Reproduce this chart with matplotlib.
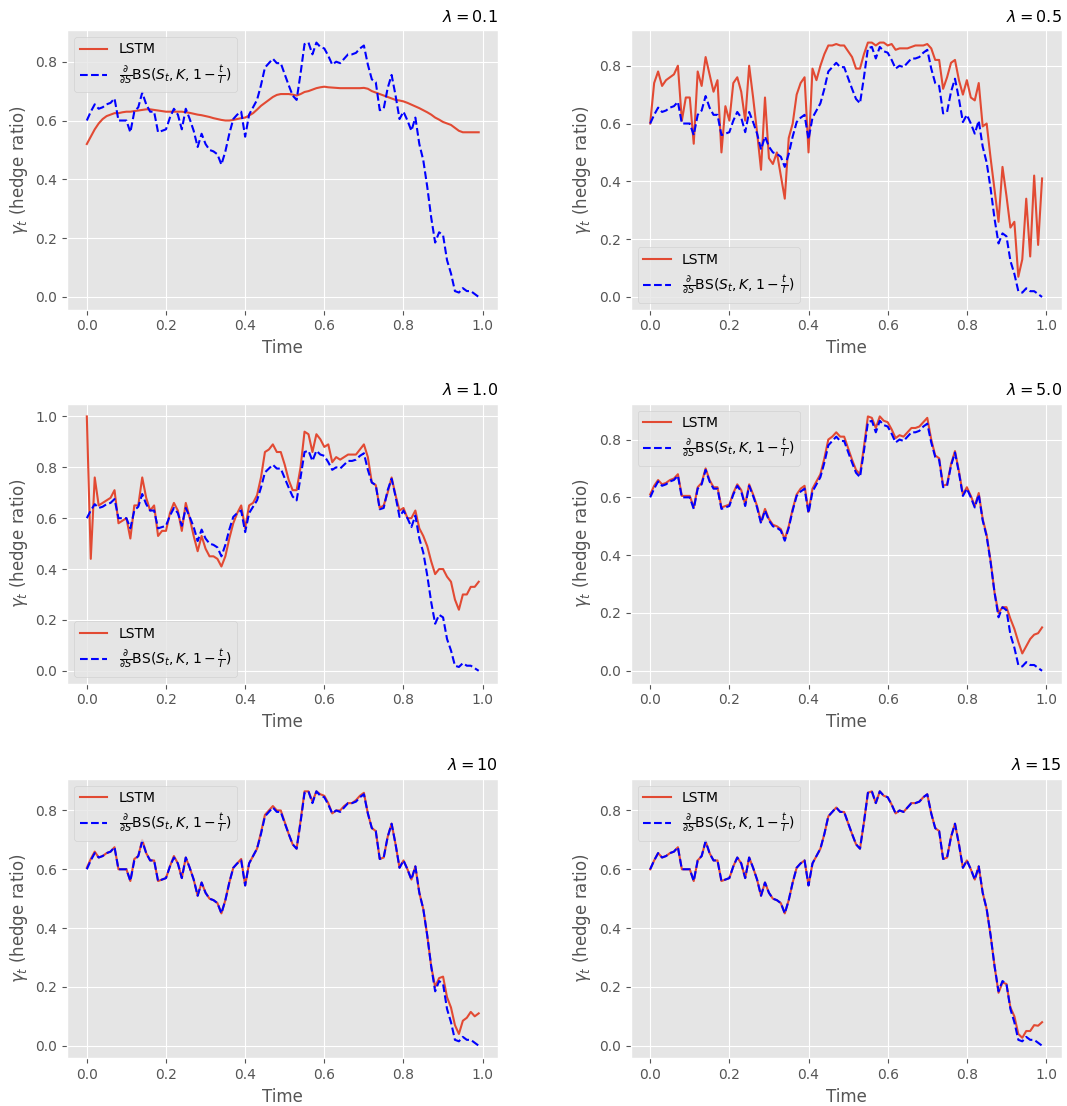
import numpy as np
import matplotlib
matplotlib.use("Agg")
import matplotlib.pyplot as plt

plt.style.use("ggplot")

times = np.arange(100) / 100.0

bs_delta = [0.60, 0.63, 0.655, 0.64, 0.645, 0.655, 0.66, 0.675, 0.60, 0.60,
            0.60, 0.56, 0.63, 0.645, 0.695, 0.655, 0.63, 0.63, 0.56, 0.565,
            0.57, 0.61, 0.64, 0.62, 0.57, 0.64, 0.605, 0.565, 0.51, 0.555,
            0.52, 0.50, 0.495, 0.485, 0.45, 0.495, 0.555, 0.605, 0.62, 0.63,
            0.545, 0.62, 0.645, 0.67, 0.72, 0.78, 0.795, 0.81, 0.795, 0.795,
            0.757, 0.72, 0.685, 0.67, 0.76, 0.86, 0.865, 0.825, 0.865, 0.85,
            0.845, 0.82, 0.79, 0.80, 0.795, 0.81, 0.825, 0.825, 0.83, 0.845,
            0.855, 0.79, 0.74, 0.73, 0.635, 0.64, 0.71, 0.755, 0.685, 0.605,
            0.63, 0.60, 0.565, 0.61, 0.52, 0.465, 0.375, 0.27, 0.185, 0.22,
            0.21, 0.125, 0.08, 0.02, 0.015, 0.03, 0.02, 0.02, 0.01, 0.00]

lstm_01 = [0.52, 0.545, 0.57, 0.59, 0.605, 0.615, 0.62, 0.625, 0.625, 0.628,
           0.63, 0.63, 0.632, 0.634, 0.636, 0.638, 0.638, 0.636, 0.634, 0.632,
           0.63, 0.63, 0.63, 0.63, 0.63, 0.628, 0.626, 0.623, 0.62, 0.618,
           0.615, 0.612, 0.608, 0.605, 0.602, 0.60, 0.60, 0.602, 0.605, 0.608,
           0.61, 0.617, 0.625, 0.637, 0.65, 0.66, 0.67, 0.68, 0.687, 0.69,
           0.69, 0.69, 0.688, 0.685, 0.69, 0.697, 0.70, 0.705, 0.71, 0.713,
           0.715, 0.713, 0.712, 0.711, 0.71, 0.71, 0.71, 0.71, 0.71, 0.71,
           0.711, 0.708, 0.70, 0.695, 0.69, 0.685, 0.68, 0.675, 0.67, 0.668,
           0.665, 0.66, 0.654, 0.648, 0.642, 0.635, 0.628, 0.62, 0.61, 0.603,
           0.595, 0.59, 0.585, 0.575, 0.565, 0.56, 0.56, 0.56, 0.56, 0.56]

lstm_05 = [0.60, 0.74, 0.78, 0.73, 0.75, 0.76, 0.77, 0.80, 0.61, 0.69,
           0.69, 0.53, 0.78, 0.73, 0.83, 0.77, 0.71, 0.75, 0.50, 0.66,
           0.61, 0.74, 0.76, 0.71, 0.61, 0.80, 0.69, 0.57, 0.44, 0.69,
           0.48, 0.46, 0.50, 0.42, 0.34, 0.55, 0.60, 0.70, 0.74, 0.76,
           0.50, 0.79, 0.75, 0.80, 0.84, 0.87, 0.87, 0.875, 0.87, 0.87,
           0.85, 0.83, 0.79, 0.79, 0.84, 0.88, 0.88, 0.87, 0.88, 0.88,
           0.87, 0.875, 0.855, 0.86, 0.86, 0.86, 0.865, 0.87, 0.87, 0.87,
           0.875, 0.86, 0.82, 0.82, 0.72, 0.76, 0.81, 0.82, 0.75, 0.70,
           0.75, 0.69, 0.68, 0.74, 0.59, 0.60, 0.48, 0.37, 0.26, 0.45,
           0.35, 0.24, 0.26, 0.07, 0.13, 0.34, 0.14, 0.42, 0.18, 0.41]

lstm_10 = [1.00, 0.44, 0.76, 0.65, 0.66, 0.67, 0.68, 0.71, 0.58, 0.59,
           0.60, 0.52, 0.65, 0.65, 0.76, 0.68, 0.63, 0.65, 0.53, 0.55,
           0.55, 0.62, 0.66, 0.63, 0.55, 0.66, 0.60, 0.53, 0.47, 0.53,
           0.48, 0.45, 0.45, 0.44, 0.41, 0.45, 0.52, 0.58, 0.62, 0.65,
           0.56, 0.65, 0.66, 0.69, 0.76, 0.86, 0.87, 0.89, 0.86, 0.86,
           0.81, 0.75, 0.71, 0.71, 0.80, 0.94, 0.93, 0.86, 0.93, 0.91,
           0.88, 0.89, 0.82, 0.84, 0.83, 0.84, 0.85, 0.85, 0.85, 0.87,
           0.89, 0.84, 0.74, 0.73, 0.64, 0.65, 0.70, 0.76, 0.69, 0.63,
           0.64, 0.60, 0.60, 0.63, 0.56, 0.53, 0.49, 0.43, 0.38, 0.40,
           0.40, 0.37, 0.35, 0.28, 0.24, 0.30, 0.30, 0.33, 0.33, 0.35]

lstm_50 = [0.61, 0.64, 0.66, 0.645, 0.65, 0.66, 0.665, 0.68, 0.605, 0.605,
           0.605, 0.565, 0.635, 0.65, 0.70, 0.66, 0.635, 0.635, 0.565, 0.57,
           0.575, 0.615, 0.645, 0.625, 0.575, 0.645, 0.61, 0.57, 0.515, 0.56,
           0.525, 0.505, 0.50, 0.49, 0.455, 0.50, 0.56, 0.61, 0.63, 0.64,
           0.55, 0.63, 0.655, 0.68, 0.735, 0.80, 0.81, 0.825, 0.81, 0.81,
           0.77, 0.73, 0.695, 0.68, 0.775, 0.88, 0.875, 0.84, 0.88, 0.865,
           0.86, 0.835, 0.805, 0.815, 0.81, 0.825, 0.84, 0.84, 0.845, 0.86,
           0.875, 0.80, 0.745, 0.735, 0.64, 0.645, 0.715, 0.76, 0.69, 0.61,
           0.635, 0.605, 0.57, 0.615, 0.525, 0.47, 0.38, 0.27, 0.20, 0.22,
           0.22, 0.18, 0.145, 0.10, 0.06, 0.085, 0.11, 0.125, 0.13, 0.15]

lstm_100 = [0.605, 0.635, 0.66, 0.64, 0.645, 0.655, 0.66, 0.675, 0.60, 0.60,
            0.60, 0.56, 0.635, 0.645, 0.70, 0.655, 0.63, 0.63, 0.56, 0.565,
            0.57, 0.61, 0.645, 0.62, 0.57, 0.64, 0.605, 0.565, 0.51, 0.555,
            0.52, 0.50, 0.495, 0.485, 0.45, 0.495, 0.555, 0.605, 0.62, 0.635,
            0.545, 0.62, 0.645, 0.67, 0.725, 0.785, 0.80, 0.815, 0.80, 0.80,
            0.76, 0.72, 0.685, 0.67, 0.765, 0.865, 0.865, 0.83, 0.865, 0.855,
            0.85, 0.825, 0.79, 0.80, 0.80, 0.815, 0.825, 0.825, 0.835, 0.85,
            0.86, 0.79, 0.74, 0.73, 0.635, 0.64, 0.71, 0.755, 0.685, 0.605,
            0.63, 0.60, 0.565, 0.61, 0.52, 0.465, 0.375, 0.27, 0.20, 0.23,
            0.235, 0.165, 0.13, 0.07, 0.04, 0.085, 0.095, 0.115, 0.10, 0.11]

lstm_150 = [0.60, 0.63, 0.655, 0.64, 0.645, 0.655, 0.66, 0.675, 0.60, 0.60,
            0.60, 0.56, 0.63, 0.645, 0.695, 0.655, 0.63, 0.63, 0.56, 0.565,
            0.57, 0.61, 0.64, 0.62, 0.57, 0.64, 0.605, 0.565, 0.51, 0.555,
            0.52, 0.50, 0.495, 0.485, 0.45, 0.495, 0.555, 0.605, 0.62, 0.63,
            0.545, 0.62, 0.645, 0.67, 0.72, 0.78, 0.795, 0.81, 0.795, 0.795,
            0.757, 0.72, 0.685, 0.67, 0.76, 0.86, 0.865, 0.825, 0.865, 0.85,
            0.845, 0.82, 0.79, 0.80, 0.795, 0.81, 0.825, 0.825, 0.83, 0.845,
            0.855, 0.79, 0.74, 0.73, 0.635, 0.64, 0.71, 0.755, 0.685, 0.605,
            0.63, 0.60, 0.565, 0.61, 0.52, 0.465, 0.375, 0.27, 0.18, 0.215,
            0.21, 0.13, 0.10, 0.04, 0.027, 0.05, 0.05, 0.07, 0.068, 0.08]

lambda_labels = ["0.1", "0.5", "1.0", "5.0", "10", "15"]
lstm_series = [lstm_01, lstm_05, lstm_10, lstm_50, lstm_100, lstm_150]
legend_locs = ["upper left", "lower left", "lower left", "upper left", "upper left", "upper left"]

fig = plt.figure(figsize=(10.67, 11.06), dpi=100)

lefts = [0.063, 0.591]
bottoms = [0.720, 0.382, 0.043]
w = 0.404
h = 0.253

bs_label = r"$\frac{\partial}{\partial S}$BS$(S_t, K, 1-\frac{t}{T})$"

for i, (lam, series, loc) in enumerate(zip(lambda_labels, lstm_series, legend_locs)):
    r, c = divmod(i, 2)
    ax = fig.add_axes([lefts[c], bottoms[r], w, h])
    ax.plot(times, series, color="#E24A33", lw=1.5, label="LSTM")
    ax.plot(times, bs_delta, color="blue", ls="--", lw=1.5, label=bs_label)
    ax.set_title(r"$\lambda = %s$" % lam, loc="right", fontsize=11.5)
    ax.set_xlabel("Time", fontsize=12, color="#555555")
    ax.set_ylabel(r"$\gamma_t$ (hedge ratio)", fontsize=12, color="#555555")
    ax.tick_params(labelsize=10)
    ax.set_xticks([0.0, 0.2, 0.4, 0.6, 0.8, 1.0])
    ax.legend(loc=loc, fontsize=10)

fig.savefig("out.png", dpi=100)
